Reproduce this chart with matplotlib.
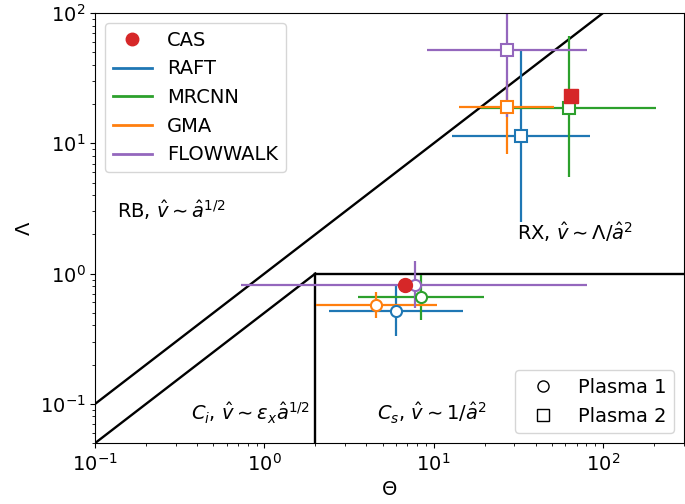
import matplotlib.pyplot as plt
import numpy as np

plt.rcParams['font.size'] = 14

# Theta, Lambda values with (low, high) error ranges
methods = ['RAFT', 'MRCNN', 'GMA', 'FLOWWALK']
colors = ['tab:blue', 'tab:green', 'tab:orange', 'tab:purple']

# Plasma 1 (circles)
p1_theta = [6.0, 8.4, 4.56, 7.8]
p1_theta_lo = [2.4, 3.55, 2.02, 0.73]
p1_theta_hi = [14.9, 19.9, 10.4, 80.5]
p1_lam = [0.52, 0.66, 0.574, 0.82]
p1_lam_lo = [0.33, 0.44, 0.456, 0.54]
p1_lam_hi = [0.80, 0.98, 0.72, 1.24]

# Plasma 2 (squares)
p2_theta = [32.7, 63.0, 27.2, 27.2]
p2_theta_lo = [12.9, 19.0, 14.1, 9.1]
p2_theta_hi = [83.5, 206.0, 51.4, 80.8]
p2_lam = [11.4, 18.8, 19.0, 52.0]
p2_lam_lo = [2.48, 5.5, 8.3, 15.8]
p2_lam_hi = [51.3, 66.5, 30.0, 120.0]

cas_theta = [6.8, 64.5]
cas_lam = [0.82, 23.0]

fig = plt.figure(figsize=(6.85, 5.04), dpi=100)
ax = fig.add_axes([0.139, 0.121, 0.859, 0.853])

# regime boundaries
th = np.array([0.1, 1000])
ax.plot(th, th, 'k-', lw=1.7)
ax.plot([0.1, 2], [0.05, 1], 'k-', lw=1.7)
ax.plot([2, 1000], [1, 1], 'k-', lw=1.7)
ax.plot([2, 2], [0.01, 1], 'k-', lw=1.7)

for i, (m, c) in enumerate(zip(methods, colors)):
    ax.errorbar(p1_theta[i], p1_lam[i],
                xerr=[[p1_theta[i] - p1_theta_lo[i]], [p1_theta_hi[i] - p1_theta[i]]],
                yerr=[[p1_lam[i] - p1_lam_lo[i]], [p1_lam_hi[i] - p1_lam[i]]],
                color=c, marker='o', mfc='white', mec=c, ms=8, mew=1.5, lw=1.6, capsize=0)
    ax.errorbar(p2_theta[i], p2_lam[i],
                xerr=[[p2_theta[i] - p2_theta_lo[i]], [p2_theta_hi[i] - p2_theta[i]]],
                yerr=[[p2_lam[i] - p2_lam_lo[i]], [p2_lam_hi[i] - p2_lam[i]]],
                color=c, marker='s', mfc='white', mec=c, ms=8.5, mew=1.5, lw=1.6, capsize=0)
    ax.plot([], [], color=c, lw=2, label=m)

ax.plot(cas_theta[0], cas_lam[0], 'o', color='tab:red', ms=10, zorder=5)
ax.plot(cas_theta[1], cas_lam[1], 's', color='tab:red', ms=10, zorder=5)

ax.set_xscale('log')
ax.set_yscale('log')
ax.set_xlim(0.1, 300)
ax.set_ylim(0.05, 100)
ax.set_xlabel(r'$\Theta$')
ax.set_ylabel(r'$\Lambda$')

ax.text(0.135, 3.05, r'RB, $\hat{v} \sim \hat{a}^{1/2}$', va='center')
ax.text(31, 2.1, r'RX, $\hat{v} \sim \Lambda/\hat{a}^{2}$', va='center')
ax.text(1.85, 0.084, r'$C_i$, $\hat{v} \sim \epsilon_x\hat{a}^{1/2}$', va='center', ha='right')
ax.text(4.6, 0.084, r'$C_s$, $\hat{v} \sim 1/\hat{a}^{2}$', va='center')

cas_h, = ax.plot([], [], 'o', color='tab:red', ms=9, label='CAS')
handles, labels = ax.get_legend_handles_labels()
order = [labels.index('CAS')] + [labels.index(m) for m in methods]
leg1 = ax.legend([handles[k] for k in order], [labels[k] for k in order],
                 loc='upper left')
ax.add_artist(leg1)

h1, = ax.plot([], [], 'o', mfc='white', mec='black', color='black', ms=8)
h2, = ax.plot([], [], 's', mfc='white', mec='black', color='black', ms=8)
ax.legend([h1, h2], ['Plasma 1', 'Plasma 2'], loc='lower right')

plt.savefig('out.png')
